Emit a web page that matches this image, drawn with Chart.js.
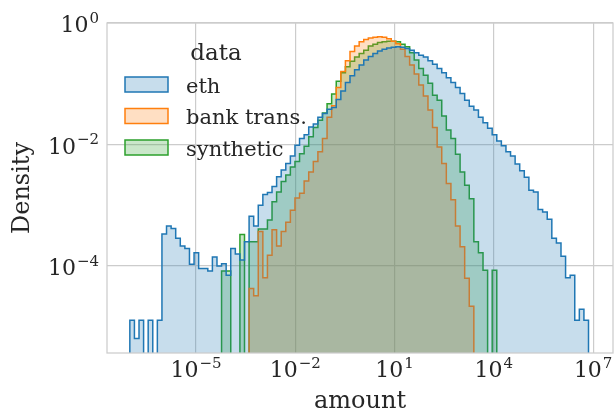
<!DOCTYPE html>
<html>
<head>
<meta charset="utf-8">
<script src="https://cdn.jsdelivr.net/npm/chart.js@4/dist/chart.umd.min.js"></script>
<style>
  html, body { margin: 0; padding: 0; background: #fff; }
  canvas { display: block; }
</style>
</head>
<body>
<canvas id="histChart" width="616" height="411" style="width:616px;height:411px"></canvas>
<script>
// 100 bins, equal width in log10(amount), shared by all three series
const binLogMin = -7.0;
const binLogMax = 6.86;
const binCount = 100;

const seriesLabels = ['eth', 'bank trans.', 'synthetic'];
const seriesColors = ['#1f77b4', '#ff7f0e', '#2ca02c'];

// log10(density) per bin, null = empty bin
const ethLogDensity = [
  -4.89, -5.19, -4.89, null, -4.89, null, -4.89, -3.47, -3.34, -3.38,
  -3.54, -3.67, -3.71, -3.97, -3.78, -4.04, -4.04, -4.08, -3.85, -4.00,
  -3.96, -4.15, -3.71, -3.80, -3.90, -3.60, -3.18, -3.34, -3.00, -2.82,
  -2.79, -2.69, -2.53, -2.42, -2.31, -2.19, -2.01, -1.90, -1.84, -1.71,
  -1.66, -1.55, -1.49, -1.42, -1.39, -1.26, -1.12, -0.98, -0.87, -0.77,
  -0.69, -0.61, -0.55, -0.50, -0.46, -0.43, -0.41, -0.40, -0.39, -0.40,
  -0.42, -0.45, -0.49, -0.53, -0.56, -0.62, -0.68, -0.75, -0.82, -0.90,
  -0.98, -1.06, -1.16, -1.27, -1.37, -1.43, -1.55, -1.64, -1.73, -1.84,
  -1.94, -2.02, -2.12, -2.19, -2.32, -2.43, -2.54, -2.75, -2.78, -3.07,
  -3.11, -3.23, -3.54, -3.62, -3.84, -4.19, -4.15, -4.89, -4.71, -4.89
];
const bankLogDensity = [
  null, null, null, null, null, null, null, null, null, null,
  null, null, null, null, null, null, null, null, null, null,
  null, null, null, null, null, null, -4.37, -4.49, -3.43, -4.19,
  -3.82, -3.40, -3.67, -3.43, -3.28, -3.08, -2.88, -2.80, -2.60, -2.45,
  -2.28, -2.12, -1.90, -1.55, -1.36, -1.06, -0.80, -0.62, -0.47, -0.38,
  -0.31, -0.27, -0.245, -0.235, -0.225, -0.235, -0.26, -0.30, -0.34, -0.43,
  -0.55, -0.69, -0.84, -1.02, -1.20, -1.43, -1.72, -2.04, -2.31, -2.64,
  -2.91, -3.34, -3.68, -4.20, -4.66, null, null, null, null, null,
  null, null, null, null, null, null, null, null, null, null,
  null, null, null, null, null, null, null, null, null, null
];
const syntheticLogDensity = [
  null, null, null, null, null, null, null, null, null, null,
  null, null, null, null, null, null, null, null, null, null,
  -4.08, -4.08, null, null, -3.48, null, -3.60, -3.60, -3.39, -3.39,
  -3.24, -2.94, -2.78, -2.61, -2.50, -2.37, -2.28, -2.15, -2.03, -1.87,
  -1.72, -1.60, -1.48, -1.33, -1.17, -0.96, -0.82, -0.72, -0.63, -0.56,
  -0.50, -0.45, -0.38, -0.35, -0.32, -0.31, -0.30, -0.30, -0.31, -0.35,
  -0.39, -0.49, -0.61, -0.75, -0.86, -0.99, -1.19, -1.27, -1.53, -1.76,
  -1.90, -2.16, -2.45, -2.67, -2.89, -3.60, -3.78, -4.07, null, -4.07,
  null, null, null, null, null, null, null, null, null, null,
  null, null, null, null, null, null, null, null, null, null
];

const xTickPowers = [-5, -2, 1, 4, 7];
const yTickPowers = [-4, -2, 0];
const xLimLog = [-7.69, 7.6];
const yLimLog = [-5.43, 0];

const fontFamily = '"DejaVu Serif", serif';
const textColor = '#262626';
const gridColor = '#cccccc';
const EMPTY = 1e-12; // empty bins fall below the axis, like log(0) in matplotlib

const binEdges = [];
for (let i = 0; i <= binCount; i++) {
  binEdges.push(Math.pow(10, binLogMin + (binLogMax - binLogMin) * i / binCount));
}

function stepPoints(logDensity) {
  const pts = [{x: binEdges[0], y: EMPTY}];
  logDensity.forEach((v, i) => {
    pts.push({x: binEdges[i], y: v === null ? EMPTY : Math.pow(10, v)});
  });
  pts.push({x: binEdges[binCount], y: pts[pts.length - 1].y});
  pts.push({x: binEdges[binCount], y: EMPTY});
  return pts;
}

function withAlpha(hex, a) {
  const n = parseInt(hex.slice(1), 16);
  return `rgba(${(n >> 16) & 255}, ${(n >> 8) & 255}, ${n & 255}, ${a})`;
}

const seriesData = [ethLogDensity, bankLogDensity, syntheticLogDensity];
const datasets = seriesLabels.map((label, k) => ({
  label: label,
  data: stepPoints(seriesData[k]),
  borderColor: seriesColors[k],
  backgroundColor: withAlpha(seriesColors[k], 0.25),
  borderWidth: 1.5,
  fill: 'start',
  stepped: 'before',
  pointRadius: 0,
  tension: 0
}));

// light grey frame on all four sides, like the seaborn whitegrid spines
const framePlugin = {
  id: 'frame',
  afterDatasetsDraw(chart) {
    const {ctx, chartArea: a} = chart;
    ctx.save();
    ctx.strokeStyle = gridColor;
    ctx.lineWidth = 1.25;
    ctx.strokeRect(a.left, a.top, a.right - a.left, a.bottom - a.top);
    ctx.restore();
  }
};

// "10" with a raised exponent, as matplotlib's mathtext draws it
function drawPower(ctx, p, x, baseline, align) {
  const base = '10';
  const expo = String(p).replace('-', '\u2212');
  ctx.font = `22px ${fontFamily}`;
  const wb = ctx.measureText(base).width;
  ctx.font = `15px ${fontFamily}`;
  const we = ctx.measureText(expo).width;
  const w = wb + 1 + we;
  let left = align === 'right' ? x - w : x - w / 2;
  ctx.textAlign = 'left';
  ctx.textBaseline = 'alphabetic';
  ctx.font = `22px ${fontFamily}`;
  ctx.fillText(base, left, baseline);
  ctx.font = `15px ${fontFamily}`;
  ctx.fillText(expo, left + wb + 1, baseline - 9.5);
}

const tickLabelPlugin = {
  id: 'powerTicks',
  afterDraw(chart) {
    const ctx = chart.ctx;
    const xs = chart.scales.x, ys = chart.scales.y;
    ctx.save();
    ctx.fillStyle = textColor;
    xTickPowers.forEach(p => drawPower(ctx, p, xs.getPixelForValue(Math.pow(10, p)), xs.top + 24, 'center'));
    yTickPowers.forEach(p => drawPower(ctx, p, ys.right - 8, ys.getPixelForValue(Math.pow(10, p)) + 9, 'right'));
    ctx.restore();
  }
};

// legend inside the axes, with a title
const legendPlugin = {
  id: 'innerLegend',
  afterDraw(chart) {
    const ctx = chart.ctx;
    ctx.save();
    ctx.fillStyle = textColor;
    ctx.font = `23px ${fontFamily}`;
    ctx.textAlign = 'center';
    ctx.textBaseline = 'alphabetic';
    ctx.fillText('data', 216, 60);
    ctx.font = `21px ${fontFamily}`;
    ctx.textAlign = 'left';
    const rowY = [84.5, 116, 147.5];
    seriesLabels.forEach((label, k) => {
      const cy = rowY[k];
      ctx.fillStyle = withAlpha(seriesColors[k], 0.25);
      ctx.fillRect(125, cy - 7.5, 43, 15);
      ctx.strokeStyle = seriesColors[k];
      ctx.lineWidth = 1.5;
      ctx.strokeRect(125, cy - 7.5, 43, 15);
      ctx.fillStyle = textColor;
      ctx.fillText(label, 186, cy + 8);
    });
    ctx.restore();
  }
};

new Chart(document.getElementById('histChart'), {
  type: 'line',
  data: {datasets: datasets},
  options: {
    responsive: false,
    animation: false,
    events: [],
    layout: {padding: {top: 23, right: 3, left: 0, bottom: 0}},
    plugins: {
      legend: {display: false},
      tooltip: {enabled: false}
    },
    scales: {
      x: {
        type: 'logarithmic',
        min: Math.pow(10, xLimLog[0]),
        max: Math.pow(10, xLimLog[1]),
        afterBuildTicks: axis => { axis.ticks = xTickPowers.map(p => ({value: Math.pow(10, p)})); },
        afterFit: axis => { axis.height = 58; axis.paddingLeft = 0; axis.paddingRight = 0; },
        grid: {color: gridColor, lineWidth: 1.2, drawTicks: false},
        border: {display: false},
        ticks: {display: false},
        title: {
          display: true,
          text: 'amount',
          color: textColor,
          font: {family: fontFamily, size: 24, lineHeight: 0.8},
          padding: 0
        }
      },
      y: {
        type: 'logarithmic',
        min: Math.pow(10, yLimLog[0]),
        max: Math.pow(10, yLimLog[1]),
        afterBuildTicks: axis => { axis.ticks = yTickPowers.map(p => ({value: Math.pow(10, p)})); },
        afterFit: axis => { axis.width = 107; axis.paddingTop = 0; axis.paddingBottom = 0; },
        grid: {color: gridColor, lineWidth: 1.2, drawTicks: false},
        border: {display: false},
        ticks: {display: false},
        title: {
          display: true,
          text: 'Density',
          color: textColor,
          font: {family: fontFamily, size: 24},
          padding: {top: 8, bottom: 0}
        }
      }
    }
  },
  plugins: [framePlugin, tickLabelPlugin, legendPlugin]
});
</script>
</body>
</html>
